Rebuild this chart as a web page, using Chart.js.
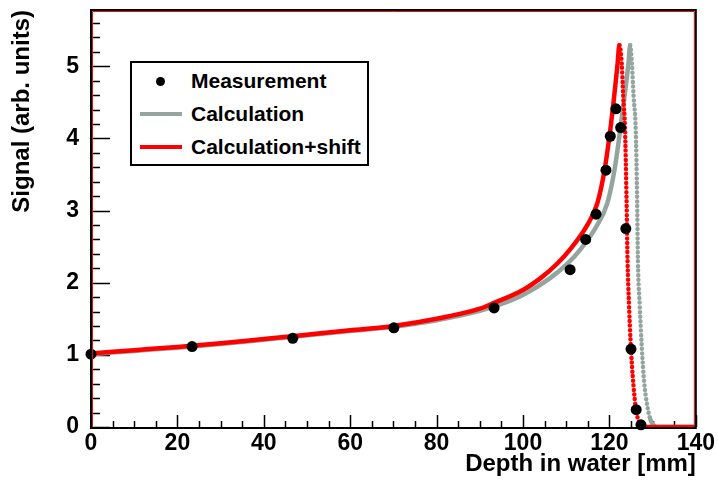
<!DOCTYPE html>
<html>
<head>
<meta charset="utf-8">
<script src="https://cdn.jsdelivr.net/npm/chart.js@4.4.1/dist/chart.umd.min.js"></script>
<style>
  body { margin: 0; background: #fff; }
  #wrap { position: relative; width: 718px; height: 482px; }
  #legend {
    position: absolute; left: 130px; top: 61px; width: 239px; height: 105px;
    box-sizing: border-box; border: 2px solid #000; background: #fff;
    font: bold 21px "Liberation Sans", Arial, sans-serif; color: #000;
  }
  .row { position: absolute; left: 0; height: 28px; line-height: 28px; width: 100%; }
  .row span { position: absolute; left: 59px; top: 0; }
  .dot { position: absolute; left: 24px; top: 9.5px; width: 9px; height: 9px; border-radius: 50%; background: #000; }
  .line { position: absolute; left: 8px; top: 12px; width: 42px; height: 4px; }
</style>
</head>
<body>
<div id="wrap">
  <canvas id="myChart" width="718" height="482"></canvas>
  <div id="legend">
    <div class="row" style="top:4px"><div class="dot"></div><span>Measurement</span></div>
    <div class="row" style="top:37px"><div class="line" style="background:#94a59f"></div><span>Calculation</span></div>
    <div class="row" style="top:70px"><div class="line" style="background:#ff0000"></div><span>Calculation+shift</span></div>
  </div>
</div>
<script>
// measured points
const depthMeas = [0, 23.4, 46.7, 70.1, 93.3, 110.9, 114.5, 116.9, 119.2, 120.2, 121.5, 122.6, 123.8, 125.0, 126.2, 127.3];
const signalMeas = [1.01, 1.115, 1.23, 1.375, 1.65, 2.18, 2.60, 2.95, 3.56, 4.03, 4.41, 4.15, 2.75, 1.08, 0.24, 0.03];

// calculation
const depthCalc = [0, 10, 20, 30, 40, 50, 60, 70, 80, 90, 95.7, 100, 106.2, 110.4, 113.4, 117, 119.5, 121.2, 122.5, 123.5, 124.4, 124.8,
  125.2, 125.6, 126.1, 126.4, 126.6, 127.0, 127.5, 128.0, 128.8, 129.5, 130.3, 131, 140];
const signalCalc = [1.01, 1.055, 1.10, 1.15, 1.21, 1.27, 1.33, 1.39, 1.48, 1.61, 1.72, 1.83, 2.06, 2.27, 2.47, 2.78, 3.1, 3.57, 4.12, 4.58, 5.04, 5.29,
  5.04, 4.58, 4.1, 3.2, 2.3, 1.7, 1.1, 0.65, 0.28, 0.1, 0.02, 0, 0];

// calculation + shift
const depthShift = [0, 10, 20, 30, 40, 50, 60, 70, 80, 90, 93.3, 100, 104, 108, 111, 114.7, 117.2, 118.9, 120.2, 121.1, 121.9, 122.3,
  122.85, 123.2, 123.6, 123.95, 124.2, 124.5, 125.0, 125.8, 126.3, 127.2, 128, 140];
const signalShift = [1.02, 1.065, 1.11, 1.16, 1.22, 1.28, 1.34, 1.40, 1.50, 1.64, 1.72, 1.90, 2.06, 2.27, 2.47, 2.78, 3.1, 3.57, 4.12, 4.58, 5.04, 5.29,
  5.04, 4.58, 4.15, 3.2, 2.3, 1.75, 1.07, 0.42, 0.19, 0.03, 0, 0];

const xTicks = [0, 20, 40, 60, 80, 100, 120, 140];
const yTicks = [0, 1, 2, 3, 4, 5];

const toXY = (xs, ys) => xs.map((v, i) => ({ x: v, y: ys[i] }));

// falloff drawn as dots, like the dense markers in the original
function dotted(xs, ys) {
  const peak = xs[ys.indexOf(Math.max(...ys))];
  return ctx => (ctx.p0.parsed.x >= peak && ctx.p1.parsed.y > 0.02 ? [0, 4.6] : undefined);
}

const FONT = '"Liberation Sans", Arial, sans-serif';

const frame = {
  id: 'frame',
  beforeDatasetsDraw(chart) {
    const { ctx, chartArea: a, scales: { x, y } } = chart;
    ctx.save();
    ctx.strokeStyle = '#000';
    ctx.lineWidth = 1.5;
    ctx.beginPath();
    for (let v = 0; v <= 140; v += 5) {
      const px = Math.round(x.getPixelForValue(v)) + 0.5;
      const len = v % 20 === 0 ? 12 : 6;
      ctx.moveTo(px, a.bottom);
      ctx.lineTo(px, a.bottom - len);
    }
    for (let k = 0; k <= 28; k++) {
      const py = Math.round(y.getPixelForValue(k * 0.2)) + 0.5;
      const len = k % 5 === 0 ? 19 : 9;
      ctx.moveTo(a.left, py);
      ctx.lineTo(a.left + len, py);
    }
    ctx.stroke();
    ctx.restore();
  },
  afterDatasetsDraw(chart) {
    const { ctx, chartArea: a } = chart;
    ctx.save();
    ctx.strokeStyle = '#e01010';
    ctx.lineWidth = 1;
    ctx.beginPath();
    ctx.moveTo(a.left + 1.5, a.bottom);
    ctx.lineTo(a.left + 1.5, a.top + 1.5);
    ctx.lineTo(a.right - 1.5, a.top + 1.5);
    ctx.lineTo(a.right - 1.5, a.bottom);
    ctx.stroke();
    ctx.strokeStyle = '#000';
    ctx.lineWidth = 2;
    ctx.strokeRect(a.left, a.top, a.right - a.left, a.bottom - a.top + 1);
    ctx.restore();
  }
};

new Chart(document.getElementById('myChart'), {
  type: 'line',
  data: {
    datasets: [
      {
        label: 'Measurement',
        data: toXY(depthMeas, signalMeas),
        showLine: false,
        pointRadius: 5.5,
        pointBackgroundColor: '#000',
        pointBorderWidth: 0,
        clip: false,
        order: 0
      },
      {
        label: 'Calculation+shift',
        data: toXY(depthShift, signalShift),
        borderColor: '#ff0000',
        borderWidth: 4.5,
        borderCapStyle: 'round',
        borderJoinStyle: 'round',
        pointRadius: 0,
        cubicInterpolationMode: 'monotone',
        segment: { borderDash: dotted(depthShift, signalShift) },
        order: 1
      },
      {
        label: 'Calculation',
        data: toXY(depthCalc, signalCalc),
        borderColor: '#94a59f',
        borderWidth: 4.5,
        borderCapStyle: 'round',
        borderJoinStyle: 'round',
        pointRadius: 0,
        cubicInterpolationMode: 'monotone',
        segment: { borderDash: dotted(depthCalc, signalCalc) },
        order: 2
      }
    ]
  },
  options: {
    responsive: false,
    animation: false,
    layout: { padding: { top: 10, right: 21, left: 0, bottom: 0 } },
    plugins: { legend: { display: false }, tooltip: { enabled: false } },
    scales: {
      x: {
        type: 'linear',
        min: 0,
        max: 140,
        afterBuildTicks: s => { s.ticks = xTicks.map(v => ({ value: v })); },
        afterFit: s => { s.height = 55; },
        grid: { display: false, drawTicks: false },
        border: { display: false },
        ticks: { color: '#000', padding: 3, maxRotation: 0, font: { family: FONT, size: 23, weight: 'bold' } },
        title: {
          display: true,
          text: 'Depth in water [mm]',
          align: 'end',
          color: '#000',
          padding: { top: 0, bottom: 3 },
          font: { family: FONT, size: 24, weight: 'bold' }
        }
      },
      y: {
        type: 'linear',
        min: 0,
        max: 5.78,
        afterBuildTicks: s => { s.ticks = yTicks.map(v => ({ value: v })); },
        afterFit: s => { s.width = 91; s.paddingTop = 0; s.paddingBottom = 0; },
        grid: { display: false, drawTicks: false },
        border: { display: false },
        ticks: { color: '#000', padding: 12, font: { family: FONT, size: 23, weight: 'bold' } },
        title: {
          display: true,
          text: 'Signal (arb. units)',
          align: 'end',
          color: '#000',
          padding: { top: 8, bottom: 0 },
          font: { family: FONT, size: 24, weight: 'bold' }
        }
      }
    }
  },
  plugins: [frame]
});
</script>
</body>
</html>
